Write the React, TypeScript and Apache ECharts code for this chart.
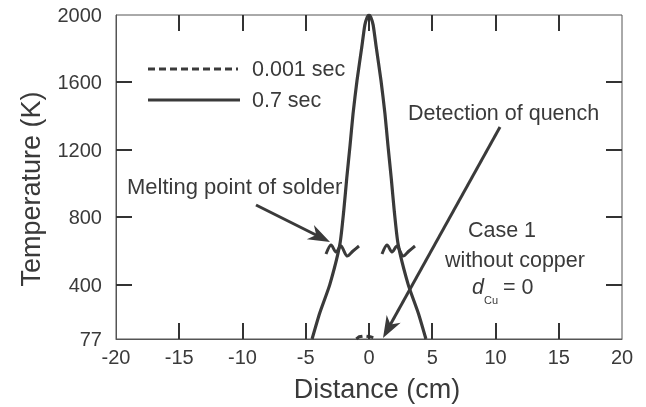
import React, { useEffect, useRef } from "react";
import * as echarts from "echarts";

// Data
const solidX = [-4.5, -3.9, -3.1, -2.3, -2.0, -1.76, -1.5, -1.26, -0.95, -0.57, -0.33, -0.14, 0, 0.14, 0.33, 0.57, 0.95, 1.26, 1.5, 1.76, 2.0, 2.3, 3.1, 3.9, 4.5];
const solidT = [77, 230, 400, 640, 835, 1030, 1225, 1415, 1610, 1810, 1940, 1988, 2000, 1988, 1940, 1810, 1610, 1415, 1225, 1030, 835, 640, 400, 230, 77];
const dashX = [-1.0, -0.8, -0.5, -0.2, 0.1, 0.4];
const dashT = [77, 90, 94, 93, 90, 84];
const xTicks = [-15, -10, -5, 0, 5, 10, 15];
const yLabels = [77, 400, 800, 1200, 1600, 2000];
const yTicks = [400, 800, 1200, 1600];
const seriesNames = ["0.001 sec", "0.7 sec"];

const INK = "#3a3a3a";
const AX = "#555555";
const TICK = "#333333";
const FONT = "Liberation Sans, Arial, sans-serif";
const X_MIN = -20, X_MAX = 20, Y_MIN = 77, Y_MAX = 2000;

function arrowHead(sx: number, sy: number, tx: number, ty: number, L: number, w: number) {
  const dx = tx - sx, dy = ty - sy;
  const len = Math.hypot(dx, dy);
  const ux = dx / len, uy = dy / len;
  const nx = -uy, ny = ux;
  const bx = tx - ux * L, by = ty - uy * L;
  return [
    [tx, ty],
    [bx + nx * w, by + ny * w],
    [tx - ux * L * 0.7, ty - uy * L * 0.7],
    [bx - nx * w, by - ny * w],
  ];
}

function wiggle(x0: number, y0: number) {
  const pts = [[0, 9], [5, 0], [10, 7], [15, 1], [21, 11], [27, 6], [33, 1]];
  return pts.map(([a, b]) => [x0 + a, y0 + b]);
}

export default function App() {
  const ref = useRef<HTMLDivElement>(null);
  useEffect(() => {
    if (!ref.current) return;
    const chart = echarts.init(ref.current, undefined, { renderer: "svg" });
    chart.setOption({
      animation: false,
      grid: { left: 116, right: 24, top: 15, bottom: 62, show: true, borderColor: AX, borderWidth: 1 },
      xAxis: {
        type: "value", min: X_MIN, max: X_MAX, interval: 5,
        axisLine: { show: true, onZero: false, lineStyle: { color: AX, width: 1 } },
        splitLine: { show: false },
        axisTick: { show: false },
        axisLabel: { fontSize: 20, color: INK, margin: 8, fontFamily: FONT, formatter: (v: number) => String(v) },
        name: "Distance (cm)", nameLocation: "middle", nameGap: 36,
        nameTextStyle: { fontSize: 27, color: INK, fontFamily: FONT, padding: [0, 0, 0, 16] },
      },
      yAxis: {
        type: "value", min: Y_MIN, max: Y_MAX,
        axisLine: { show: true, onZero: false, lineStyle: { color: AX, width: 1 } },
        splitLine: { show: false },
        axisTick: { show: false },
        axisLabel: { show: false },
        name: "Temperature (K)", nameLocation: "middle", nameGap: 72,
        nameTextStyle: { fontSize: 27, color: INK, fontFamily: FONT, padding: [0, 24, 0, 0] },
      },
      series: [
        {
          name: seriesNames[0], type: "line", showSymbol: false,
          data: dashX.map((x, i) => [x, dashT[i]]),
          lineStyle: { color: INK, width: 3, type: [7, 4] },
          itemStyle: { color: INK },
        },
        {
          name: seriesNames[1], type: "line", showSymbol: false, smooth: 0.2,
          data: solidX.map((x, i) => [x, solidT[i]]),
          lineStyle: { color: INK, width: 3.2 },
          itemStyle: { color: INK },
        },
      ],
    });

    const px = (x: number, y: number) => chart.convertToPixel({ seriesIndex: 1 }, [x, y]) as number[];
    const TL = 16;
    const els: any[] = [];
    const tick = (x1: number, y1: number, x2: number, y2: number) => ({
      type: "line", z: 100,
      shape: { x1, y1, x2, y2 },
      style: { stroke: TICK, lineWidth: 2 },
    });
    yTicks.forEach((v) => {
      const l = px(X_MIN, v);
      const r = px(X_MAX, v);
      const y = Math.round(l[1]);
      els.push(tick(l[0], y, l[0] + TL, y));
      els.push(tick(r[0], y, r[0] - TL, y));
    });
    xTicks.forEach((v) => {
      const b = px(v, Y_MIN);
      const t = px(v, Y_MAX);
      const x = Math.round(b[0]);
      els.push(tick(x, b[1], x, b[1] - TL));
      els.push(tick(x, t[1], x, t[1] + TL));
    });
    yLabels.forEach((v) => {
      const p = px(X_MIN, v);
      els.push({ type: "text", x: p[0] - 14, y: p[1], style: { text: String(v), fill: INK, font: `20px ${FONT}`, textAlign: "right", textVerticalAlign: "middle" } });
    });

    const arrow1 = { s: [256, 205], t: [330, 242] };
    const arrow2 = { s: [500, 127], t: [383, 338] };
    const tfont = `21.5px ${FONT}`;

    chart.setOption({
      graphic: [
        ...els,
        // legend
        { type: "line", shape: { x1: 148, y1: 69, x2: 238, y2: 69 }, style: { stroke: INK, lineWidth: 3, lineDash: [7, 4] } },
        { type: "text", x: 252, y: 69, style: { text: seriesNames[0], fill: INK, font: tfont, textVerticalAlign: "middle" } },
        { type: "line", shape: { x1: 148, y1: 100, x2: 240, y2: 100 }, style: { stroke: INK, lineWidth: 3 } },
        { type: "text", x: 252, y: 100, style: { text: seriesNames[1], fill: INK, font: tfont, textVerticalAlign: "middle" } },
        // annotations
        { type: "text", x: 127, y: 186, style: { text: "Melting point of solder", fill: INK, font: `22px ${FONT}`, textVerticalAlign: "middle" } },
        { type: "line", shape: { x1: arrow1.s[0], y1: arrow1.s[1], x2: arrow1.t[0] - 10, y2: arrow1.t[1] - 5 }, style: { stroke: INK, lineWidth: 3 } },
        { type: "polygon", shape: { points: arrowHead(arrow1.s[0], arrow1.s[1], arrow1.t[0], arrow1.t[1], 22, 8) }, style: { fill: INK } },
        { type: "text", x: 408, y: 113, style: { text: "Detection of quench", fill: INK, font: tfont, textVerticalAlign: "middle" } },
        { type: "line", shape: { x1: arrow2.s[0], y1: arrow2.s[1], x2: arrow2.t[0] + 6, y2: arrow2.t[1] - 11 }, style: { stroke: INK, lineWidth: 3 } },
        { type: "polygon", shape: { points: arrowHead(arrow2.s[0], arrow2.s[1], arrow2.t[0], arrow2.t[1], 22, 8) }, style: { fill: INK } },
        { type: "polyline", shape: { points: wiggle(326, 245), smooth: 0.3 }, style: { stroke: INK, lineWidth: 3, fill: null } },
        { type: "polyline", shape: { points: wiggle(382, 245), smooth: 0.3 }, style: { stroke: INK, lineWidth: 3, fill: null } },
        { type: "text", x: 502, y: 230, style: { text: "Case 1", fill: INK, font: tfont, textAlign: "center", textVerticalAlign: "middle" } },
        { type: "text", x: 515, y: 260, style: { text: "without copper", fill: INK, font: tfont, textAlign: "center", textVerticalAlign: "middle" } },
        { type: "text", x: 472, y: 287, style: { text: "d", fill: INK, font: `italic 21.5px ${FONT}`, textVerticalAlign: "middle" } },
        { type: "text", x: 484, y: 300, style: { text: "Cu", fill: INK, font: `11px ${FONT}`, textVerticalAlign: "middle" } },
        { type: "text", x: 503, y: 287, style: { text: "= 0", fill: INK, font: tfont, textVerticalAlign: "middle" } },
      ],
    });
    return () => chart.dispose();
  }, []);
  return <div ref={ref} style={{ width: 646, height: 407, position: "fixed", left: 0, top: 0 }} />;
}
